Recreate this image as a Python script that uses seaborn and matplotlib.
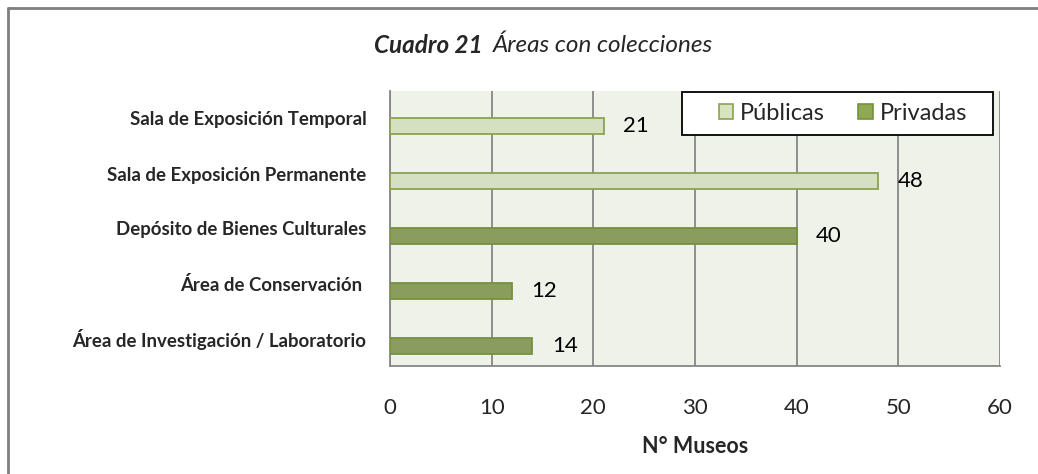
"""Cuadro 21 - Areas con colecciones (barras horizontales)."""

import matplotlib
matplotlib.use("Agg")
import matplotlib.pyplot as plt
from matplotlib.lines import Line2D
from matplotlib.patches import Patch, Rectangle
import pandas as pd
import seaborn as sns

# Datos del cuadro
categorias = [
    "Sala de Exposición Temporal",
    "Sala de Exposición Permanente",
    "Depósito de Bienes Culturales",
    "Área de Conservación ",
    "Área de Investigación / Laboratorio",
]
valores = [21, 48, 40, 12, 14]
tipos = ["Públicas", "Públicas", "Privadas", "Privadas", "Privadas"]
orden_tipos = ["Públicas", "Privadas"]
ticks_x = [0, 10, 20, 30, 40, 50, 60]

colores = {"Públicas": "#D7E4BD", "Privadas": "#8EA853"}
bordes = {"Públicas": "#8AA352", "Privadas": "#76923C"}
gris = "#868686"


def main():
    sns.set_style("white")
    plt.rcParams["font.family"] = ["Lato", "DejaVu Sans"]

    df = pd.DataFrame({"categoria": categorias, "valor": valores, "tipo": tipos})

    fig = plt.figure(figsize=(10.38, 4.74), dpi=100)
    ax = fig.add_axes([390 / 1038, 1 - 366 / 474, 610 / 1038, 275 / 474])
    ax.set_facecolor("#EFF2E9")

    sns.barplot(
        data=df, x="valor", y="categoria", hue="tipo", hue_order=orden_tipos,
        order=categorias, dodge=False, width=0.28, palette=colores,
        legend=False, ax=ax, zorder=3,
    )

    # Excel dibuja las barras algo por debajo del centro de la categoria
    for container, tipo in zip(ax.containers, orden_tipos):
        for p in container:
            p.set_y(p.get_y() + 0.135)
            p.set_edgecolor(bordes[tipo])
            p.set_linewidth(1.3)
        ax.bar_label(container, padding=14, fontsize=16, color="black")

    ax.set_xlim(0, 60)
    ax.set_ylim(4.5, -0.5)
    ax.set_xticks(ticks_x)
    ax.set_yticks(range(len(categorias)))
    ax.set_yticks([i - 0.5 for i in range(len(categorias) + 1)], minor=True)
    ax.set_yticklabels(categorias, fontsize=13.4, fontweight="bold")
    ax.tick_params(axis="y", which="major", length=0, pad=17)
    ax.tick_params(axis="y", which="minor", length=6, width=1.2, color=gris,
                   direction="out")
    ax.tick_params(axis="x", length=6, width=1.2, color=gris, direction="out",
                   pad=17, labelsize=16)
    ax.xaxis.grid(True, color=gris, linewidth=1.3, zorder=0)
    ax.set_axisbelow(True)

    ax.set_ylabel("")
    ax.set_xlabel("N° Museos", fontsize=15.5, fontweight="bold", labelpad=13)

    for lado in ["top", "right"]:
        ax.spines[lado].set_visible(False)
    for lado in ["left", "bottom"]:
        ax.spines[lado].set_color(gris)
        ax.spines[lado].set_linewidth(1.3)

    # Leyenda: marco negro ancho como en Excel, contenido centrado
    ax.add_patch(Rectangle((292 / 610, 231 / 275), 311 / 610, 43 / 275,
                           transform=ax.transAxes, facecolor="white",
                           edgecolor="black", linewidth=1.3, zorder=5,
                           clip_on=False))
    handles = [
        Patch(facecolor=colores[t], edgecolor=bordes[t], linewidth=1.2, label=t)
        for t in orden_tipos
    ]
    leg = ax.legend(
        handles=handles, ncol=2, loc="center",
        bbox_to_anchor=(453 / 610, 252.5 / 275),
        borderaxespad=0, fontsize=17, handlelength=0.62, handleheight=0.62,
        handletextpad=0.3, columnspacing=1.4, borderpad=0, frameon=False,
    )
    leg.set_zorder(6)

    # Titulo
    fig.text(483 / 1038, 1 - 45 / 474, "Cuadro 21", ha="right", va="center",
             fontsize=17.5, fontweight="bold", fontstyle="italic")
    fig.text(493 / 1038, 1 - 45 / 474, "Áreas con colecciones", ha="left",
             va="center", fontsize=17.5, fontstyle="italic")

    # Marco exterior del grafico
    fig.add_artist(Line2D([8 / 1038, 8 / 1038], [0, 1 - 8 / 474],
                          transform=fig.transFigure, color="#7F7F7F", lw=2))
    fig.add_artist(Line2D([8 / 1038, 1], [1 - 8 / 474, 1 - 8 / 474],
                          transform=fig.transFigure, color="#7F7F7F", lw=2))

    fig.savefig("out.png", dpi=100)
    plt.close(fig)


if __name__ == "__main__":
    main()
